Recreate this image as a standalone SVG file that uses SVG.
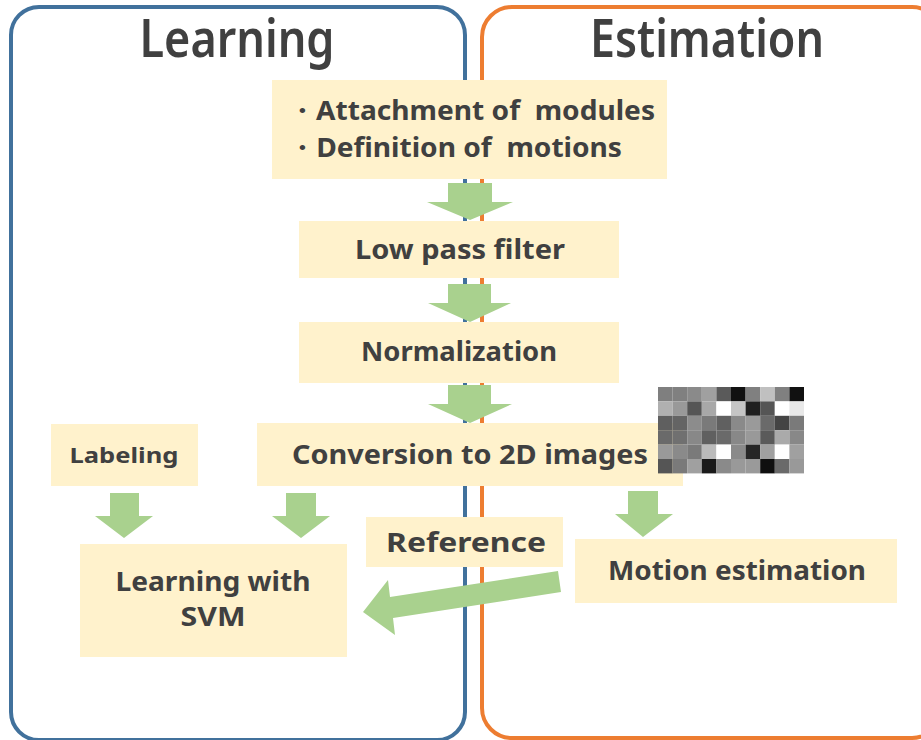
<svg xmlns="http://www.w3.org/2000/svg" width="921" height="740" viewBox="0 0 921 740">
<style>
.bg{fill:#ffffff}
.box{fill:#FFF2CC}
.t{font-family:"Noto Sans","Liberation Sans",sans-serif;font-weight:bold;fill:#404040;font-size:27px}
.title{font-family:"Noto Sans","Liberation Sans",sans-serif;font-weight:600;fill:#404040;font-size:52px}
.arr{fill:#A9D18E}
</style>
<rect class="bg" x="0" y="0" width="921" height="740"/>
<g id="learning-panel">
<rect x="11" y="7" width="454" height="733" rx="28" ry="28" fill="none" stroke="#41719C" stroke-width="4"/>
<text class="title" x="237" y="57" text-anchor="middle" textLength="195" lengthAdjust="spacingAndGlyphs">Learning</text>
</g>
<g id="estimation-panel">
<rect x="482" y="7" width="460" height="731" rx="30" ry="30" fill="none" stroke="#ED7D31" stroke-width="4"/>
<text class="title" x="707" y="57" text-anchor="middle" textLength="234" lengthAdjust="spacingAndGlyphs">Estimation</text>
</g>
<g id="connectors">
<polygon class="arr" points="448,183 492,183 492,202 513,202 470,220 427,202 448,202"/>
<polygon class="arr" points="448,284 491,284 491,303 511,303 470,322 428,303 448,303"/>
<polygon class="arr" points="448,385 491,385 491,404 512,404 470,423 428,404 448,404"/>
<polygon class="arr" points="110,493 139,493 139,516 153,516 124,538 95,516 110,516"/>
<polygon class="arr" points="286,493 316,493 316,516 330,516 301,538 272,516 286,516"/>
<polygon class="arr" points="628,491 658,491 658,514 673,514 643,537 615,514 628,514"/>
<polygon class="arr" points="558,571 561,592 393,618 395,635 363,612 388,580 390,597"/>
</g>
<g id="node-setup">
<rect class="box" x="272" y="80" width="395" height="99"/>
<text class="t" x="288" y="120" xml:space="preserve" textLength="367" lengthAdjust="spacingAndGlyphs">・Attachment of  modules</text>
<text class="t" x="288" y="157" xml:space="preserve" textLength="334" lengthAdjust="spacingAndGlyphs">・Definition of  motions</text>
</g>
<g id="node-lpf">
<rect class="box" x="299" y="221" width="320" height="57"/>
<text class="t" x="460" y="259" text-anchor="middle" textLength="210" lengthAdjust="spacingAndGlyphs">Low pass filter</text>
</g>
<g id="node-norm">
<rect class="box" x="299" y="322" width="320" height="61"/>
<text class="t" x="459" y="361" text-anchor="middle" textLength="196" lengthAdjust="spacingAndGlyphs">Normalization</text>
</g>
<g id="node-conv">
<rect class="box" x="257" y="423" width="426" height="63"/>
<text class="t" x="470" y="464" text-anchor="middle" textLength="356" lengthAdjust="spacingAndGlyphs">Conversion to 2D images</text>
</g>
<g id="pixel-image">
<rect x="658" y="387" width="14.6" height="14.4" fill="#7f7f7f"/><rect x="672.6" y="387" width="14.6" height="14.4" fill="#808080"/><rect x="687.2" y="387" width="14.6" height="14.4" fill="#8a8a8a"/><rect x="701.8" y="387" width="14.6" height="14.4" fill="#a0a0a0"/><rect x="716.4" y="387" width="14.6" height="14.4" fill="#5a5a5a"/><rect x="731" y="387" width="14.6" height="14.4" fill="#111111"/><rect x="745.6" y="387" width="14.6" height="14.4" fill="#808080"/><rect x="760.2" y="387" width="14.6" height="14.4" fill="#c0c0c0"/><rect x="774.8" y="387" width="14.6" height="14.4" fill="#808080"/><rect x="789.4" y="387" width="14.6" height="14.4" fill="#111111"/>
<rect x="658" y="401.4" width="14.6" height="14.4" fill="#b0b0b0"/><rect x="672.6" y="401.4" width="14.6" height="14.4" fill="#999999"/><rect x="687.2" y="401.4" width="14.6" height="14.4" fill="#555555"/><rect x="701.8" y="401.4" width="14.6" height="14.4" fill="#a8a8a8"/><rect x="716.4" y="401.4" width="14.6" height="14.4" fill="#ffffff"/><rect x="731" y="401.4" width="14.6" height="14.4" fill="#c5c5c5"/><rect x="745.6" y="401.4" width="14.6" height="14.4" fill="#1f1f1f"/><rect x="760.2" y="401.4" width="14.6" height="14.4" fill="#555555"/><rect x="774.8" y="401.4" width="14.6" height="14.4" fill="#ffffff"/><rect x="789.4" y="401.4" width="14.6" height="14.4" fill="#e8e8e8"/>
<rect x="658" y="415.8" width="14.6" height="14.4" fill="#5f5f5f"/><rect x="672.6" y="415.8" width="14.6" height="14.4" fill="#646464"/><rect x="687.2" y="415.8" width="14.6" height="14.4" fill="#8c8c8c"/><rect x="701.8" y="415.8" width="14.6" height="14.4" fill="#7a7a7a"/><rect x="716.4" y="415.8" width="14.6" height="14.4" fill="#606060"/><rect x="731" y="415.8" width="14.6" height="14.4" fill="#8a8a8a"/><rect x="745.6" y="415.8" width="14.6" height="14.4" fill="#9a9a9a"/><rect x="760.2" y="415.8" width="14.6" height="14.4" fill="#6a6a6a"/><rect x="774.8" y="415.8" width="14.6" height="14.4" fill="#444444"/><rect x="789.4" y="415.8" width="14.6" height="14.4" fill="#7a7a7a"/>
<rect x="658" y="430.2" width="14.6" height="14.4" fill="#6a6a6a"/><rect x="672.6" y="430.2" width="14.6" height="14.4" fill="#707070"/><rect x="687.2" y="430.2" width="14.6" height="14.4" fill="#888888"/><rect x="701.8" y="430.2" width="14.6" height="14.4" fill="#606060"/><rect x="716.4" y="430.2" width="14.6" height="14.4" fill="#6a6a6a"/><rect x="731" y="430.2" width="14.6" height="14.4" fill="#888888"/><rect x="745.6" y="430.2" width="14.6" height="14.4" fill="#999999"/><rect x="760.2" y="430.2" width="14.6" height="14.4" fill="#5a5a5a"/><rect x="774.8" y="430.2" width="14.6" height="14.4" fill="#aaaaaa"/><rect x="789.4" y="430.2" width="14.6" height="14.4" fill="#888888"/>
<rect x="658" y="444.6" width="14.6" height="14.4" fill="#999999"/><rect x="672.6" y="444.6" width="14.6" height="14.4" fill="#8a8a8a"/><rect x="687.2" y="444.6" width="14.6" height="14.4" fill="#7a7a7a"/><rect x="701.8" y="444.6" width="14.6" height="14.4" fill="#bbbbbb"/><rect x="716.4" y="444.6" width="14.6" height="14.4" fill="#ffffff"/><rect x="731" y="444.6" width="14.6" height="14.4" fill="#8a8a8a"/><rect x="745.6" y="444.6" width="14.6" height="14.4" fill="#262626"/><rect x="760.2" y="444.6" width="14.6" height="14.4" fill="#a0a0a0"/><rect x="774.8" y="444.6" width="14.6" height="14.4" fill="#ffffff"/><rect x="789.4" y="444.6" width="14.6" height="14.4" fill="#a0a0a0"/>
<rect x="658" y="459" width="14.6" height="14.4" fill="#555555"/><rect x="672.6" y="459" width="14.6" height="14.4" fill="#7a7a7a"/><rect x="687.2" y="459" width="14.6" height="14.4" fill="#a0a0a0"/><rect x="701.8" y="459" width="14.6" height="14.4" fill="#1a1a1a"/><rect x="716.4" y="459" width="14.6" height="14.4" fill="#8a8a8a"/><rect x="731" y="459" width="14.6" height="14.4" fill="#999999"/><rect x="745.6" y="459" width="14.6" height="14.4" fill="#9a9a9a"/><rect x="760.2" y="459" width="14.6" height="14.4" fill="#0f0f0f"/><rect x="774.8" y="459" width="14.6" height="14.4" fill="#6a6a6a"/><rect x="789.4" y="459" width="14.6" height="14.4" fill="#999999"/>
</g>
<g id="node-labeling">
<rect class="box" x="51" y="424" width="147" height="62"/>
<text class="t" x="124" y="463" text-anchor="middle" style="font-size:22px" textLength="109" lengthAdjust="spacingAndGlyphs">Labeling</text>
</g>
<g id="node-svm">
<rect class="box" x="80" y="544" width="267" height="113"/>
<text class="t" x="213" y="591" text-anchor="middle" textLength="195" lengthAdjust="spacingAndGlyphs">Learning with</text>
<text class="t" x="213" y="626" text-anchor="middle" textLength="65" lengthAdjust="spacingAndGlyphs">SVM</text>
</g>
<g id="node-reference">
<rect class="box" x="366" y="517" width="197" height="50"/>
<text class="t" x="466" y="552" text-anchor="middle" textLength="160" lengthAdjust="spacingAndGlyphs">Reference</text>
</g>
<g id="node-motion">
<rect class="box" x="575" y="539" width="322" height="64"/>
<text class="t" x="737" y="580" text-anchor="middle" textLength="258" lengthAdjust="spacingAndGlyphs">Motion estimation</text>
</g>
</svg>
